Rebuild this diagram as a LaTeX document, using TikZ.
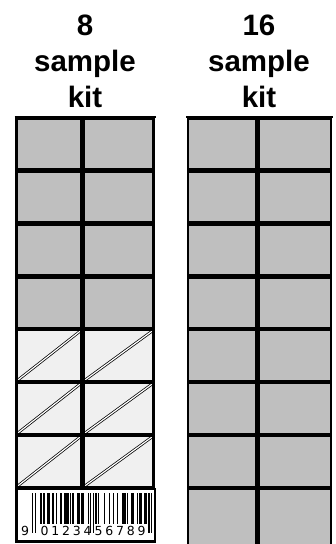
\documentclass[tikz,border=0pt]{standalone}
\usepackage{fontspec}
\setmainfont{Liberation Sans}
\newfontfamily\bcfont{DejaVu Sans}
\begin{document}
\begin{tikzpicture}[x=1pt,y=-1pt,
  cell/.style={fill=black!25, draw=black, line width=2.6pt},
  hborder/.style={draw=black, line width=2.6pt},
  diag/.style={draw=black, line width=0.75pt, double=white, double distance=1.2pt},
  title/.style={font=\fontsize{29.5}{36}\selectfont\bfseries, anchor=base, inner sep=0pt},
  digit/.style={font=\bcfont\fontsize{12.5}{13}\selectfont, anchor=base, inner sep=0pt}]
\useasboundingbox (0,0) rectangle (335,544);
\clip (0,0) rectangle (335,544);
% titles
\node[title] (l1) at (85,35) {8};
\node[title] (l2) at (85,71.5) {sample};
\node[title] (l3) at (85,107) {kit};
\node[title] (r1) at (259,35) {16};
\node[title] (r2) at (259,71.5) {sample};
\node[title] (r3) at (259,107) {kit};
% top lines
\draw[line width=1.5pt] (14.5,117) -- (156,117);
\draw[line width=1.5pt] (186,117) -- (333,117);
% left column
\foreach \k in {0,...,3}{
  \pgfmathsetmacro\ty{118.5+52.9*\k}
  \pgfmathsetmacro\by{\ty+51}
  \draw[cell] (16.5,\ty) rectangle (81.5,\by);
  \draw[cell] (83.5,\ty) rectangle (153.5,\by);
}
\foreach \k in {4,...,6}{
  \pgfmathsetmacro\ty{118.5+52.9*\k}
  \pgfmathsetmacro\by{\ty+51}
  \fill[black!6] (16.5,\ty) rectangle (81.5,\by);
  \fill[black!6] (83.5,\ty) rectangle (153.5,\by);
  \draw[diag] (16.5,\by) -- (81.5,\ty);
  \draw[diag] (83.5,\by) -- (153.5,\ty);
  \draw[hborder] (16.5,\ty) rectangle (81.5,\by);
  \draw[hborder] (83.5,\ty) rectangle (153.5,\by);
}
% barcode label
\draw[line width=2.2pt, fill=white] (16.5,489) rectangle (155,541.5);
\foreach \b [count=\i from 0] in {2,0,2,
  0,0,0,1,1,0,1, 0,0,1,1,0,0,1, 0,0,1,0,0,1,1, 0,1,1,1,1,0,1, 0,1,0,0,0,1,1, 0,1,1,0,0,0,1,
  0,2,0,2,0,
  1,0,1,0,0,0,0, 1,0,0,0,1,0,0, 1,0,0,1,0,0,0, 1,1,1,0,1,0,0, 1,1,1,0,0,1,0, 1,1,0,0,1,1,0,
  2,0,2}{
  \ifnum\b=1 \fill (32+1.263*\i,493) rectangle ++(1.4,31);\fi
  \ifnum\b=2 \fill (32+1.263*\i,493) rectangle ++(1.4,40);\fi
}
\node[digit] (d9) at (25,535) {9};
\foreach \d [count=\i from 0] in {0,1,2,3,4,5,6,7,8,9}{
  \node[digit] (dg\i) at (44.5+10.8*\i,535) {\d};
}
% right column
\foreach \k in {0,...,7}{
  \pgfmathsetmacro\ty{118.5+52.9*\k}
  \pgfmathsetmacro\by{\k==7 ? 570 : \ty+51}
  \draw[cell] (188,\ty) rectangle (256.5,\by);
  \draw[cell] (258.5,\ty) rectangle (331,\by);
}
\end{tikzpicture}
\end{document}
